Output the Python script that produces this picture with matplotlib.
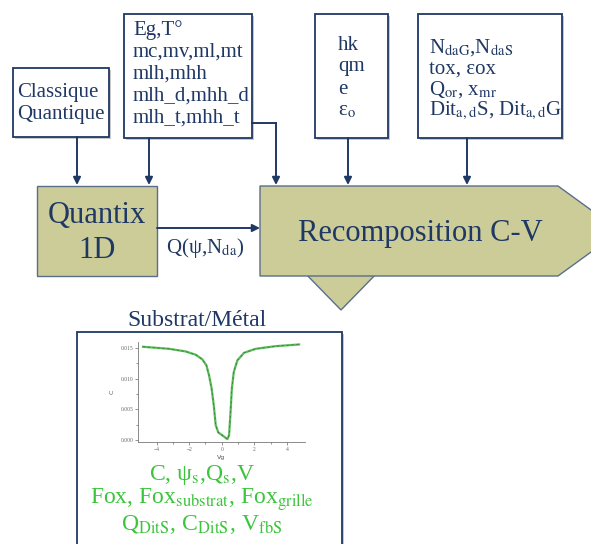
import numpy as np
import matplotlib.pyplot as plt
from matplotlib.patches import Rectangle, Polygon

plt.rcParams['font.family'] = 'Liberation Serif'
plt.rcParams['mathtext.fontset'] = 'stix'

# courbe C(Vg)
vg = [-4.84, -3.24, -2.22, -1.6, -1.19, -0.94, -0.78, -0.62, -0.49, -0.37, -0.21,
      0.08, 0.35, 0.45, 0.53, 0.62, 0.74, 0.96, 1.37, 2.09, 3.32, 4.76]
cap = [0.01522, 0.01489, 0.01446, 0.01392, 0.01316, 0.01218, 0.01056, 0.00839,
       0.00569, 0.00244, 0.00125, 0.00070, 0.00016, 0.00081, 0.00406, 0.00839,
       0.0111, 0.0130, 0.01424, 0.01489, 0.01532, 0.0156]
xticks = [-4, -2, 0, 2, 4]
yticks = [0.000, 0.005, 0.010, 0.015]

lignes_eg = ['Eg,T°', 'mc,mv,ml,mt', 'mlh,mhh', 'mlh_d,mhh_d', 'mlh_t,mhh_t']
lignes_hk = ['hk', 'qm', 'e', r'ε$_{\mathrm{o}}$']
lignes_n = [r'N$_{\mathrm{daG}}$,N$_{\mathrm{daS}}$', 'tox, εox',
            r'Q$_{\mathrm{or}}$, x$_{\mathrm{mr}}$',
            r'Dit$_{\mathrm{a,d}}$S, Dit$_{\mathrm{a,d}}$G']
lignes_vert = [r'C, ψ$_{\mathrm{s}}$,Q$_{\mathrm{s}}$,V',
               r'Fox, Fox$_{\mathrm{substrat}}$, Fox$_{\mathrm{grille}}$',
               r'Q$_{\mathrm{DitS}}$, C$_{\mathrm{DitS}}$, V$_{\mathrm{fbS}}$']

navy = '#1f3864'
khaki = '#cccc99'
green = '#3cc43c'
edge = '#5a6e8c'

fig = plt.figure(figsize=(5.91, 5.44), dpi=100)
ax = fig.add_axes([0, 0, 1, 1])
ax.set_xlim(0, 591)
ax.set_ylim(544, 0)
ax.axis('off')


def box(x0, y0, x1, y1):
    ax.add_patch(Rectangle((x0 + 2, y0 + 2), x1 - x0, y1 - y0, fc='#c8c8c8', ec='none'))
    ax.add_patch(Rectangle((x0, y0), x1 - x0, y1 - y0, fc='white', ec=navy, lw=1.3))


def arrow(x0, y0, x1, y1):
    ax.annotate('', xy=(x1, y1), xytext=(x0, y0),
                arrowprops=dict(arrowstyle='-|>', color=navy, lw=1.4,
                                mutation_scale=11, shrinkA=0, shrinkB=0))


# boites du haut
box(13, 68, 109, 137)
ax.text(17, 93, 'Classique', fontsize=15, color=navy, va='center')
ax.text(17, 114, 'Quantique', fontsize=15, color=navy, va='center')

box(124, 14, 252, 138)
for i, s in enumerate(lignes_eg):
    ax.text(133, 30 + i * 22, s, fontsize=15, color=navy, va='center')

box(315, 14, 388, 138)
for i, s in enumerate(lignes_hk):
    ax.text(338, 45 + i * 22, s, fontsize=15, color=navy, va='center')

box(418, 14, 562, 138)
for i, s in enumerate(lignes_n):
    ax.text(429, 48 + i * 21, s, fontsize=15, color=navy, va='center')

# fleches
arrow(77, 137, 77, 185)
arrow(149, 138, 149, 185)
ax.plot([252, 276], [123, 123], color=navy, lw=1.4)
arrow(276, 123, 276, 185)
arrow(348, 138, 348, 185)
arrow(467, 138, 467, 185)

# Quantix
ax.add_patch(Rectangle((37, 186), 120, 90, fc=khaki, ec=edge, lw=1))
ax.text(97, 216, 'Quantix', fontsize=22, color=navy, ha='center', va='center')
ax.text(97, 251, '1D', fontsize=22, color=navy, ha='center', va='center')

arrow(157, 228, 260, 228)
ax.text(205, 248, r'Q(ψ,N$_{\mathrm{da}}$)', fontsize=15, color=navy,
        ha='center', va='center')

# Recomposition
ax.add_patch(Polygon([(302, 270), (380, 270), (341, 310)], fc=khaki, ec=edge, lw=1))
ax.add_patch(Polygon([(260, 186), (558, 186), (620, 231), (558, 276), (260, 276)],
                     fc=khaki, ec=edge, lw=1))
ax.text(420, 233, 'Recomposition C-V', fontsize=22, color=navy, ha='center', va='center')

# panneau du bas
ax.text(197, 320, 'Substrat/Métal', fontsize=17, color=navy, ha='center', va='center')
ax.add_patch(Rectangle((79, 334), 265, 230, fc='#c8c8c8', ec='none'))
ax.add_patch(Rectangle((77, 332), 265, 230, fc='white', ec=navy, lw=1.3))
for i, s in enumerate(lignes_vert):
    ax.text(202, 475 + i * 25, s, fontsize=17, color=green, ha='center', va='center')

# petit graphe C-V
ax2 = fig.add_axes([138 / 591, (544 - 442) / 544, 167 / 591, 100 / 544])
ax2.plot(vg, cap, color='#55bb55', lw=1.6)
ax2.plot(vg, cap, color='#446644', lw=0.5, ls=(0, (3, 4)))
ax2.set_xlim(-5.15, 5.12)
ax2.set_ylim(-0.0003, 0.016)
ax2.set_xticks(xticks)
ax2.set_yticks(yticks)
ax2.set_xticks([-3, -1, 1, 3], minor=True)
ax2.set_yticks([0.0025, 0.0075, 0.0125], minor=True)
ax2.set_yticklabels(['%.3f' % v for v in yticks])
ax2.tick_params(labelsize=4, colors='#666666', length=2, width=0.5, pad=1.5)
ax2.tick_params(which='minor', length=1.2, width=0.5, colors='#666666')
for s in ['top', 'right']:
    ax2.spines[s].set_visible(False)
for s in ['left', 'bottom']:
    ax2.spines[s].set_color('#777777')
    ax2.spines[s].set_linewidth(0.6)
ax2.set_xlabel('Vg', fontsize=4.5, color='#555555', family='DejaVu Sans', labelpad=2)
ax2.set_ylabel('C', fontsize=4.5, color='#555555', family='DejaVu Sans', labelpad=4)

fig.savefig('out.png', dpi=100)
